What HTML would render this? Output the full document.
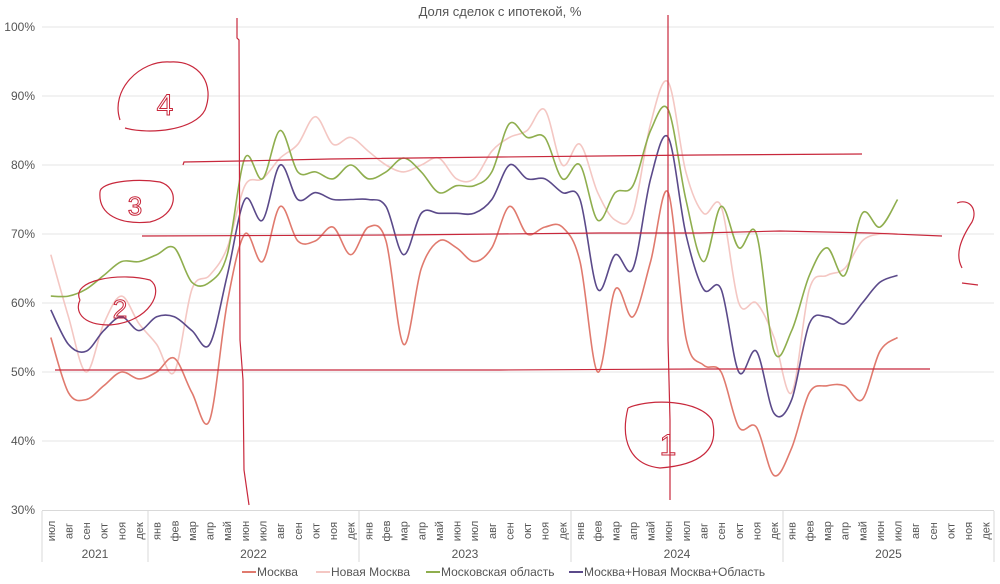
<!DOCTYPE html>
<html><head><meta charset="utf-8">
<style>
html,body{margin:0;padding:0;background:#fff;}
svg{display:block;font-family:"Liberation Sans",sans-serif;}
</style></head>
<body>
<svg id="c" width="1000" height="584" viewBox="0 0 1000 584" xmlns="http://www.w3.org/2000/svg">
<rect x="0" y="0" width="1000" height="584" fill="#fff"/>
<text x="500" y="16" text-anchor="middle" font-size="13" fill="#555">Доля сделок с ипотекой, %</text>
<g id="grid"></g>
<g id="axis"></g>
<g id="series" fill="none" stroke-width="1.6"></g>
<g id="ann" fill="none" stroke="#c8283c" stroke-width="1.2"></g>
<g font-size="12" fill="#555">
<line x1="242" y1="572" x2="256" y2="572" stroke="#e07a6e" stroke-width="2"/><text x="257" y="576">Москва</text>
<line x1="316" y1="572" x2="330" y2="572" stroke="#f4c7c3" stroke-width="2"/><text x="331" y="576">Новая Москва</text>
<line x1="426" y1="572" x2="440" y2="572" stroke="#8fae4e" stroke-width="2"/><text x="441" y="576">Московская область</text>
<line x1="569" y1="572" x2="583" y2="572" stroke="#5b4a8a" stroke-width="2"/><text x="584" y="576">Москва+Новая Москва+Область</text>
</g>
</svg>
<script>
var NS="http://www.w3.org/2000/svg";
function el(p,t,a,txt){var e=document.createElementNS(NS,t);for(var k in a)e.setAttribute(k,a[k]);if(txt!==undefined)e.textContent=txt;document.getElementById(p).appendChild(e);return e;}
function Y(v){return 510-(v-30)*6.9;}
var X0=42,MW=17.64;
for(var v=30;v<=100;v+=10){
  if(v>30) el("grid","line",{x1:42,x2:994,y1:Y(v),y2:Y(v),stroke:"#e6e6e6","stroke-width":1});
  el("grid","text",{x:35,y:Y(v)+4,"text-anchor":"end","font-size":12,fill:"#555"},v+"%");
}
el("axis","line",{x1:42,x2:994,y1:510.5,y2:510.5,stroke:"#d9d9d9"});
var mon=["янв","фев","мар","апр","май","июн","июл","авг","сен","окт","ноя","дек"];
for(var i=0;i<54;i++){
  var m=(i+6)%12,x=X0+MW*(i+0.5);
  el("axis","text",{x:0,y:0,"font-size":11,fill:"#555","text-anchor":"middle",transform:"translate("+(x+4)+",531) rotate(-90)"},mon[m]);
}
var divs=[42,148,359,571,783,994];
for(var d=0;d<divs.length;d++) el("axis","line",{x1:divs[d],x2:divs[d],y1:511,y2:562,stroke:"#d9d9d9"});
var yrs=["2021","2022","2023","2024","2025"];
for(var d=0;d<5;d++) el("axis","text",{x:(divs[d]+divs[d+1])/2,y:558,"text-anchor":"middle","font-size":12,fill:"#555"},yrs[d]);
var S=[
["#f4c7c3",[67,58,50,57,61,57,54,50,62,64,68,77,78,81,83,87,83,84,82,80,79,80,81,78,78,82,84,85,88,80,83,76,72,73,86,92,79,73,74,60,60,55,47,62,64,65,69,70,70]],
["#e07a6e",[55,47,46,48,50,49,50,52,47,43,60,70,66,74,69,69,71,67,71,69,54,65,69,68,66,68,74,70,71,71,66,50,62,58,66,76,55,51,50,42,42,35,39,47,48,48,46,53,55]],
["#8fae4e",[61,61,62,64,66,66,67,68,63,63,67,81,78,85,79,79,78,80,78,79,81,79,76,77,77,79,86,84,84,78,80,72,76,77,85,88,75,66,74,68,70,53,56,64,68,64,73,71,75]],
["#5b4a8a",[59,54,53,56,58,56,58,58,56,54,64,75,72,80,75,76,75,75,75,74,67,73,73,73,73,75,80,78,78,76,75,62,67,65,78,84,70,62,62,50,53,44,46,57,58,57,60,63,64]]
];
S.forEach(function(s){
  var p=s[1].map(function(v,i){return [X0+MW*(i+0.5),Y(v)];});
  var d="M"+p[0][0]+","+p[0][1];
  for(var i=0;i<p.length-1;i++){
    var p0=p[i-1]||p[i],p1=p[i],p2=p[i+1],p3=p[i+2]||p2,t=6;
    d+=" C"+(p1[0]+(p2[0]-p0[0])/t)+","+(p1[1]+(p2[1]-p0[1])/t)+" "+(p2[0]-(p3[0]-p1[0])/t)+","+(p2[1]-(p3[1]-p1[1])/t)+" "+p2[0]+","+p2[1];
  }
  el("series","path",{d:d,stroke:s[0]});
});
var A=[
"M183,165 L184,162 L240,161 L330,159 L500,157 L700,155 L862,154",
"M142,236 L400,235 L600,233 L700,233 L780,231 L870,233 L942,236",
"M55,370 L240,370 L500,370 L700,369 L800,369 L930,369",
"M237,18 L237,38 L239,40 L240,340 L243,380 L244,470 L249,505",
"M668,15 L668,340 L670,420 L670,500",
"M120,120 C110,90 140,60 170,62 C200,60 215,85 205,110 C195,130 150,135 125,128",
"M100,192 C100,182 135,178 160,182 C180,188 178,215 150,222 C120,225 98,215 100,192",
"M80,300 C70,280 120,272 150,280 C165,290 150,322 110,325 C80,325 75,310 80,300",
"M628,408 C650,398 700,400 712,420 C720,450 700,465 660,468 C630,465 620,440 628,408",
"M957,203 C970,198 978,210 972,222 C960,240 955,255 962,268 M962,283 L978,285"
];
A.forEach(function(d){el("ann","path",{d:d});});
var T=[["4",165,115,30],["3",135,215,26],["2",120,318,26],["1",668,455,30]];
T.forEach(function(t){el("ann","text",{x:t[1],y:t[2],"font-size":t[3],"text-anchor":"middle",fill:"none",stroke:"#c8283c","stroke-width":1},t[0]);});
</script>
</body></html>
